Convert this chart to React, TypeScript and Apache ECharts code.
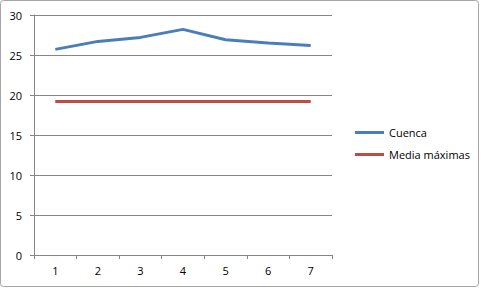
import React, { useEffect, useRef } from "react";
import * as echarts from "echarts";

const categories = ["1", "2", "3", "4", "5", "6", "7"];
const cuenca = [25.7, 26.7, 27.2, 28.2, 26.9, 26.5, 26.2];
const mediaMaximas = [19.2, 19.2, 19.2, 19.2, 19.2, 19.2, 19.2];
const seriesNames = ["Cuenca", "Media máximas"];

const FONT = "Open Sans";

export default function App() {
  const ref = useRef<HTMLDivElement>(null);
  useEffect(() => {
    if (!ref.current) return;
    const chart = echarts.init(ref.current, undefined, { renderer: "svg" });
    chart.setOption({
      animation: false,
      backgroundColor: "#ffffff",
      graphic: [
        {
          type: "rect",
          shape: { x: 0.5, y: 0.5, width: 478, height: 286, r: 3 },
          style: { fill: "none", stroke: "#a6a6a6", lineWidth: 1 },
          silent: true,
        },
      ],
      grid: { left: 34, right: 152, top: 15, bottom: 37, containLabel: false },
      legend: {
        orient: "vertical",
        left: 350,
        top: 122,
        itemWidth: 29,
        itemHeight: 3,
        itemGap: 11,
        icon: "rect",
        textStyle: { fontFamily: FONT, fontSize: 11, color: "#000" },
        data: seriesNames,
      },
      xAxis: {
        type: "category",
        data: categories,
        boundaryGap: true,
        axisLine: { lineStyle: { color: "#868686", width: 1 } },
        axisTick: { show: true, length: 4, lineStyle: { color: "#868686" } },
        axisLabel: { fontFamily: FONT, fontSize: 11, color: "#000", margin: 10 },
      },
      yAxis: {
        type: "value",
        min: 0,
        max: 30,
        interval: 5,
        axisLine: { show: true, lineStyle: { color: "#868686", width: 1 } },
        axisTick: { show: true, length: 4, lineStyle: { color: "#868686" } },
        axisLabel: { fontFamily: FONT, fontSize: 11, color: "#000", margin: 12 },
        splitLine: { lineStyle: { color: "#868686", width: 1 } },
      },
      series: [
        {
          name: seriesNames[0],
          type: "line",
          data: cuenca,
          symbol: "none",
          lineStyle: { color: "#4a7ebb", width: 3 },
          itemStyle: { color: "#4a7ebb" },
        },
        {
          name: seriesNames[1],
          type: "line",
          data: mediaMaximas,
          symbol: "none",
          lineStyle: { color: "#be4b48", width: 3 },
          itemStyle: { color: "#be4b48" },
        },
      ],
    });
    return () => chart.dispose();
  }, []);
  return (
    <div
      ref={ref}
      style={{ position: "fixed", left: 0, top: 0, width: 484, height: 292 }}
    />
  );
}
